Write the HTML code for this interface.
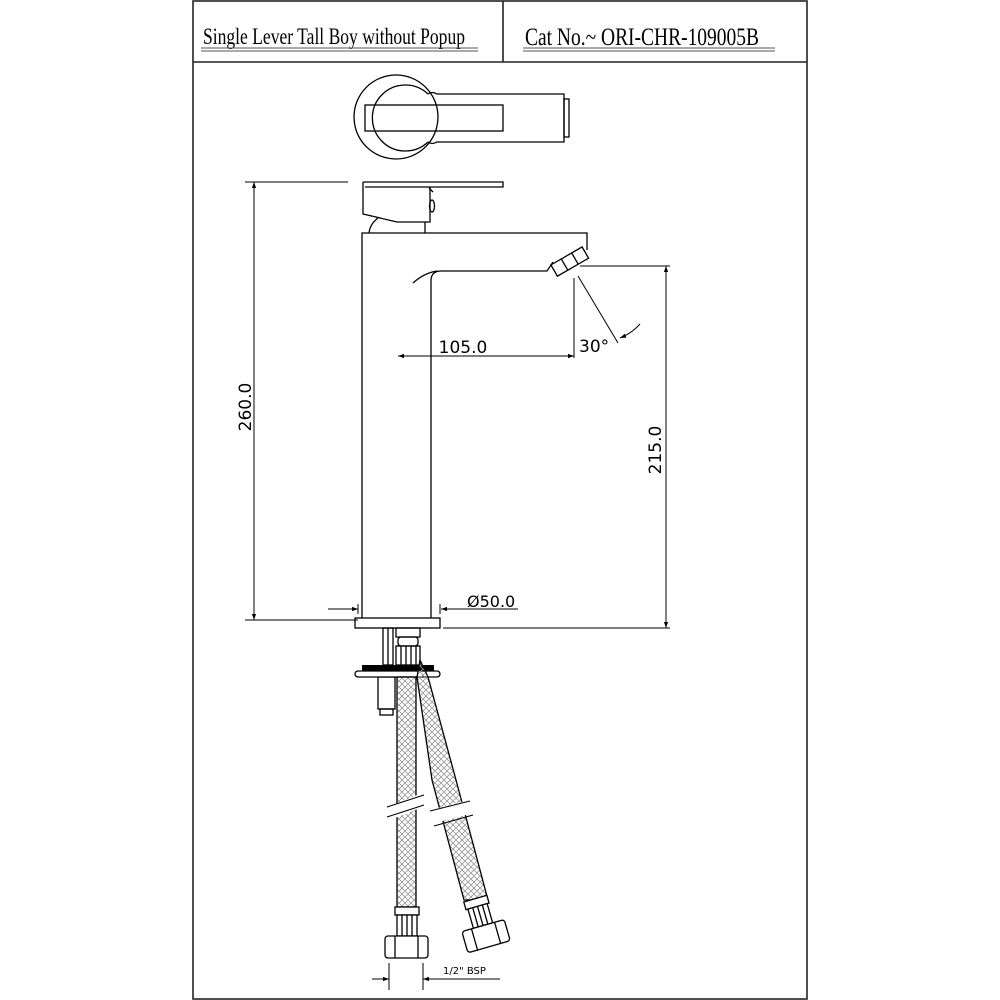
<!DOCTYPE html>
<html><head><meta charset="utf-8"><style>
html,body{margin:0;padding:0;background:#fff}
svg{display:block}
.t{font-family:"Liberation Serif",serif;}
.s{font-family:"DejaVu Sans","Liberation Sans",sans-serif;}
</style></head><body>
<svg width="1000" height="1000" viewBox="0 0 1000 1000" xmlns="http://www.w3.org/2000/svg">
<defs>
<pattern id="x" width="6" height="6" patternUnits="userSpaceOnUse">
<path d="M0 0L6 6M6 0L0 6" stroke="#999" stroke-width="0.8"/>
</pattern>
<marker id="a" viewBox="0 0 10 10" refX="10" refY="5" markerWidth="10" markerHeight="6" orient="auto-start-reverse" markerUnits="userSpaceOnUse"><path d="M0 1.5L10 5L0 8.5z" fill="#000"/></marker>
</defs>
<g fill="none" stroke="#222" stroke-width="1.6">
<rect x="193" y="1" width="614" height="998"/>
<line x1="193" y1="62" x2="807" y2="62"/>
<line x1="503" y1="1" x2="503" y2="62"/>
</g>
<text class="t" x="203" y="44" font-size="23" textLength="262" lengthAdjust="spacingAndGlyphs">Single Lever Tall Boy without Popup</text>
<text class="t" x="525" y="45" font-size="25" textLength="234" lengthAdjust="spacingAndGlyphs">Cat No.~ ORI-CHR-109005B</text>
<g stroke="#555" stroke-width="1"><line x1="201" y1="48" x2="478" y2="48"/><line x1="201" y1="51" x2="478" y2="51"/><line x1="523" y1="48" x2="775" y2="48"/><line x1="523" y1="51" x2="775" y2="51"/></g>

<g fill="none" stroke="#000" stroke-width="1.3">
<circle cx="396" cy="117" r="42"/>
<path d="M428 94 A33 33 0 1 0 428 142"/>
<path d="M428 94 Q432 91 437 94 L564 94 L564 142 L437 142 Q432 145 428 142"/>
<rect x="365" y="105" width="138" height="26"/>
<rect x="564" y="99" width="5" height="38"/>
<path d="M363 182 L503 182 L503 187 L365 187"/>
<path d="M363 182 L363 214 L397 222 L430 222 L430 187"/>
<line x1="429" y1="188" x2="433" y2="192"/>
<ellipse cx="432" cy="206" rx="2.5" ry="6"/>
<path d="M369 233 Q370 224 378 218"/>
<line x1="425" y1="222" x2="425" y2="233"/>
<path d="M362 618 L362 233 L587 233 L587 250"/>
<path d="M431 618 L431 281 Q431 271 441 271 L547 271 L553 262"/>
<path d="M413 283 Q424 273 437 271"/>
<g transform="translate(570,262) rotate(-30)">
<rect x="-18" y="-7" width="36" height="13"/>
<line x1="-6" y1="-7" x2="-6" y2="6"/><line x1="6" y1="-7" x2="6" y2="6"/>
</g>
<rect x="355" y="618" width="85" height="10"/>
<rect x="383" y="628" width="10" height="37"/>
<line x1="388" y1="628" x2="388" y2="665"/>
<rect x="378" y="677" width="17" height="32"/>
<rect x="380" y="709" width="13" height="6"/>
<rect x="396" y="628" width="24" height="9"/>
<rect x="398" y="637" width="20" height="9" rx="3"/>
<rect x="396" y="646" width="24" height="19"/>
<line x1="401" y1="646" x2="401" y2="665"/><line x1="406" y1="646" x2="406" y2="665"/><line x1="411" y1="646" x2="411" y2="665"/><line x1="416" y1="646" x2="416" y2="665"/>
</g>
<rect x="362" y="665" width="72" height="6" fill="#000"/>
<rect x="355" y="671" width="85" height="6" rx="3" fill="#fff" stroke="#000" stroke-width="1.3"/>
<g stroke="#000" stroke-width="1.3">
<polygon points="420,660 428,677 456,780 488,900 464,900 432,780 417,677" fill="url(#x)"/>
<rect x="397" y="677" width="19" height="230" fill="url(#x)"/>
</g>
<polygon points="390,806 425,792 425,806 390,820" fill="#fff"/>
<polygon points="430,810 470,800 470,814 430,824" fill="#fff"/>
<g stroke="#000" stroke-width="1.1">
<line x1="387" y1="807" x2="424" y2="795"/><line x1="387" y1="817" x2="424" y2="805"/>
<line x1="430" y1="811" x2="470" y2="801"/><line x1="434" y1="826" x2="473" y2="815"/>
</g>
<g fill="#fff" stroke="#000" stroke-width="1.3">
<rect x="395" y="907" width="24" height="8"/>
<rect x="397" y="915" width="20" height="21"/>
<line x1="402" y1="915" x2="402" y2="936"/><line x1="407" y1="915" x2="407" y2="936"/><line x1="412" y1="915" x2="412" y2="936"/>
<rect x="385" y="936" width="43" height="22" rx="3"/>
<line x1="395" y1="936" x2="395" y2="958"/><line x1="418" y1="936" x2="418" y2="958"/>
<g transform="translate(480,915) rotate(-16)">
<rect x="-12" y="-17" width="24" height="8"/>
<rect x="-10" y="-9" width="20" height="20"/>
<line x1="-5" y1="-9" x2="-5" y2="11"/><line x1="0" y1="-9" x2="0" y2="11"/><line x1="5" y1="-9" x2="5" y2="11"/>
<rect x="-22" y="11" width="44" height="22" rx="3"/>
<line x1="-12" y1="11" x2="-12" y2="33"/><line x1="12" y1="11" x2="12" y2="33"/>
</g>
</g>
<g stroke="#000" stroke-width="1" fill="none">
<line x1="245" y1="182" x2="348" y2="182"/>
<line x1="245" y1="620" x2="358" y2="620"/>
<line x1="254" y1="182" x2="254" y2="620" marker-start="url(#a)" marker-end="url(#a)"/>
<line x1="580" y1="266" x2="670" y2="266"/>
<line x1="443" y1="628" x2="670" y2="628"/>
<line x1="666" y1="266" x2="666" y2="628" marker-start="url(#a)" marker-end="url(#a)"/>
<line x1="574" y1="278" x2="574" y2="358"/>
<line x1="398" y1="356" x2="574" y2="356" marker-start="url(#a)" marker-end="url(#a)"/>
<line x1="578" y1="276" x2="618" y2="343"/>
<path d="M640 324 Q632 333 620 338" marker-end="url(#a)"/>
<line x1="328" y1="609" x2="358" y2="609" marker-end="url(#a)"/>
<line x1="358" y1="604" x2="358" y2="614"/>
<line x1="518" y1="609" x2="441" y2="609" marker-end="url(#a)"/>
<line x1="440" y1="604" x2="440" y2="614"/>
<line x1="389" y1="963" x2="389" y2="990"/>
<line x1="423" y1="963" x2="423" y2="990"/>
<line x1="372" y1="979" x2="389" y2="979" marker-end="url(#a)"/>
<line x1="500" y1="979" x2="423" y2="979" marker-end="url(#a)"/>
</g>
<g class="s" fill="#000">
<text x="463" y="353" font-size="17" text-anchor="middle">105.0</text>
<text x="579" y="352" font-size="17">30°</text>
<text x="467" y="607" font-size="16">Ø50.0</text>
<text x="443" y="974" font-size="10">1/2" BSP</text>
<text transform="translate(251,407) rotate(-90)" font-size="17" text-anchor="middle">260.0</text>
<text transform="translate(661,450) rotate(-90)" font-size="17" text-anchor="middle">215.0</text>
</g>
</svg>
</body></html>
